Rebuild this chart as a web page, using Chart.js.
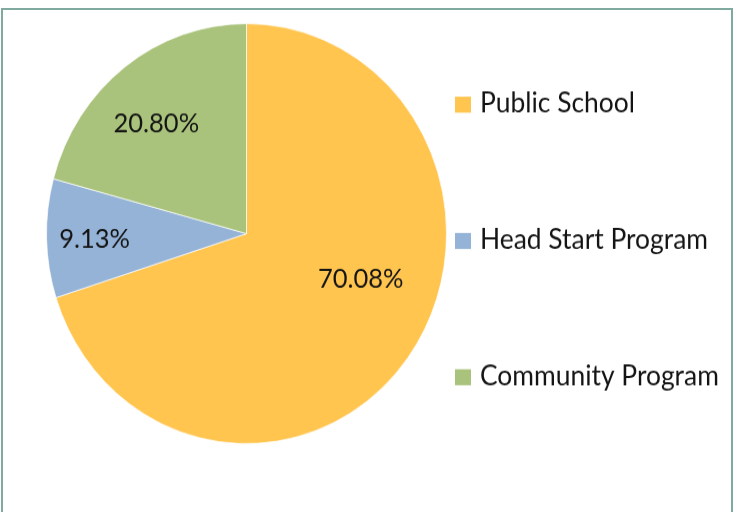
<!DOCTYPE html>
<html>
<head>
<meta charset="utf-8">
<script src="https://cdn.jsdelivr.net/npm/chart.js@4.4.0/dist/chart.umd.min.js"></script>
<style>
  html, body { margin: 0; padding: 0; background: #fff; overflow: hidden; }
  #frame {
    position: absolute; left: 1px; top: 8px; width: 732px; height: 540px;
    border: 2px solid #80a9a0; box-sizing: border-box;
  }
  #stretch {
    position: absolute; left: 0; top: 0; width: 739px; height: 488px;
    transform: scaleY(1.05); transform-origin: 0 0;
  }
</style>
</head>
<body>
<div id="frame"></div>
<div id="stretch"><canvas id="pie" width="739" height="488"></canvas></div>
<script>
const categories = ['Public School', 'Head Start Program', 'Community Program'];
const shares = [70.08, 9.13, 20.80];
const sliceColors = ['#ffc54f', '#95b3d7', '#a9c37c'];

// where each percentage sits inside its slice: share of the radius, turn from mid-angle (deg)
const labelRadius = [0.61, 0.76, 0.69];
const labelTurn = [-15.6, -0.6, -3.4];

const LABEL_FONT = '25.5px Lato';
const LEGEND_FONT = '26.4px Lato';
const TEXT_COLOR = '#141414';

const sliceLabels = {
  id: 'sliceLabels',
  afterDatasetsDraw(chart) {
    const ctx = chart.ctx;
    const meta = chart.getDatasetMeta(0);
    ctx.save();
    ctx.font = LABEL_FONT;
    ctx.fillStyle = TEXT_COLOR;
    ctx.textAlign = 'center';
    ctx.textBaseline = 'middle';
    meta.data.forEach((arc, i) => {
      const p = arc.getProps(['x', 'y', 'startAngle', 'endAngle', 'outerRadius'], true);
      const a = (p.startAngle + p.endAngle) / 2 + labelTurn[i] * Math.PI / 180;
      const r = p.outerRadius * labelRadius[i];
      ctx.fillText(shares[i].toFixed(2) + '%', p.x + Math.cos(a) * r, p.y + Math.sin(a) * r);
    });
    ctx.restore();
  }
};

// legend on the right, spaced out like the original sheet
const sideLegend = {
  id: 'sideLegend',
  afterDraw(chart) {
    const ctx = chart.ctx;
    const left = chart.chartArea.right + 8;
    const firstBase = 107.3, step = 129.8, box = 16;
    ctx.save();
    ctx.font = LEGEND_FONT;
    ctx.textAlign = 'left';
    ctx.textBaseline = 'alphabetic';
    chart.data.labels.forEach((label, i) => {
      const base = firstBase + i * step;
      ctx.fillStyle = chart.data.datasets[0].backgroundColor[i];
      ctx.fillRect(left, base - box / 1.05, box, box / 1.05);
      ctx.fillStyle = TEXT_COLOR;
      ctx.fillText(label, left + 25, base);
    });
    ctx.restore();
  }
};

new Chart(document.getElementById('pie'), {
  type: 'pie',
  data: {
    labels: categories,
    datasets: [{
      data: shares,
      backgroundColor: sliceColors,
      borderColor: 'rgba(255,255,255,0.7)',
      borderWidth: 1
    }]
  },
  options: {
    responsive: false,
    animation: false,
    layout: { padding: { left: 46, right: 292, top: 21, bottom: 64 } },
    plugins: {
      legend: { display: false },
      tooltip: { enabled: false }
    }
  },
  plugins: [sliceLabels, sideLegend]
});
</script>
</body>
</html>
